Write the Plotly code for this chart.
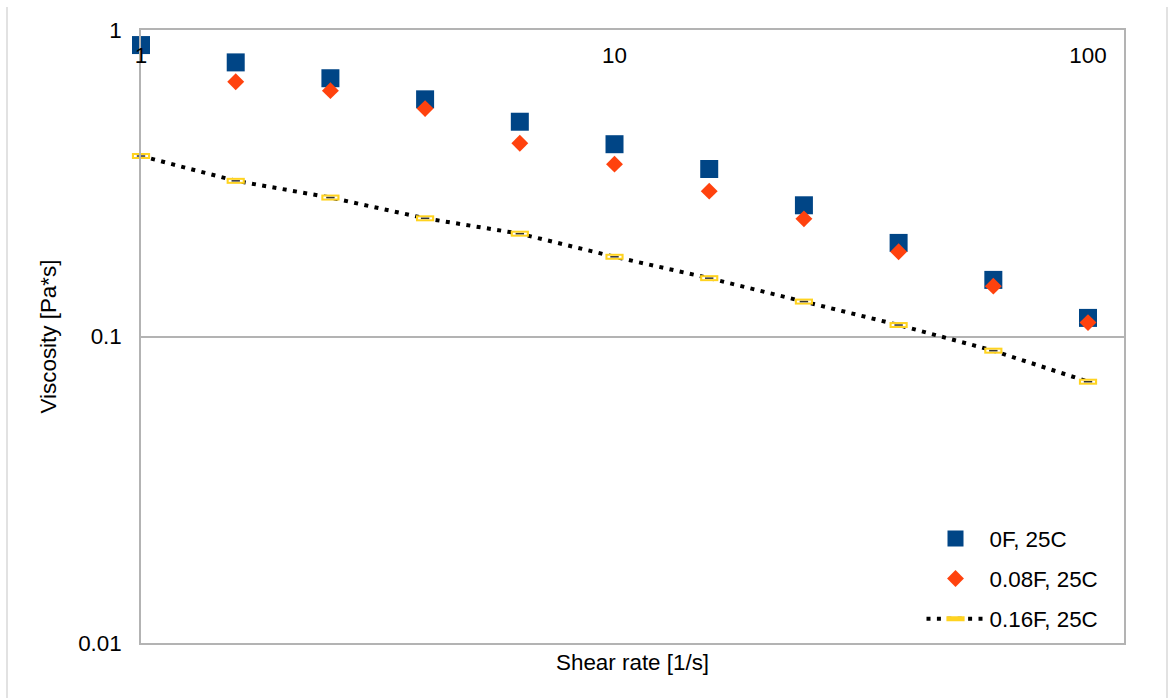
import plotly.graph_objects as go

# Shear rate [1/s]
shear_rate = [1, 1.585, 2.512, 3.981, 6.31, 10, 15.85, 25.12, 39.81, 63.1, 100]

# Viscosity [Pa*s] for each formulation at 25C
visc_0F = [0.893, 0.784, 0.696, 0.594, 0.502, 0.424, 0.352, 0.268, 0.202, 0.153, 0.115]
visc_008F = [None, 0.678, 0.634, 0.554, 0.427, 0.365, 0.298, 0.242, 0.189, 0.146, 0.111]
visc_016F = [0.388, 0.322, 0.284, 0.243, 0.2165, 0.182, 0.155, 0.130, 0.109, 0.0899, 0.0712]

x_ticks = [1, 10, 100]
x_tick_text = ["1", "10", "100"]
y_ticks = [0.01, 0.1, 1]
y_tick_text = ["0.01", "0.1", "1"]

FONT = "Liberation Sans, Arial, sans-serif"
FS = 22.4
GRID = "#b3b3b3"

fig = go.Figure()

fig.add_trace(go.Scatter(
    x=shear_rate, y=visc_0F, mode="markers", name="0F, 25C",
    marker=dict(symbol="square", size=18, color="#004586"),
    legendgroup="a", cliponaxis=False,
))
fig.add_trace(go.Scatter(
    x=shear_rate, y=visc_008F, mode="markers", name="0.08F, 25C",
    marker=dict(symbol="diamond", size=13, color="#ff420e"),
    legendgroup="b", cliponaxis=False,
))
fig.add_trace(go.Scatter(
    x=shear_rate, y=visc_016F, mode="lines+markers", name="0.16F, 25C",
    line=dict(color="black", width=4, dash="4px,6.4px"),
    marker=dict(symbol="line-ew", size=13, line=dict(color="#ffd320", width=6)),
    legendgroup="c", cliponaxis=False,
))
# hollow centre of the dash markers, with the line showing through
fig.add_trace(go.Scatter(
    x=shear_rate, y=visc_016F, mode="markers", showlegend=False, hoverinfo="skip",
    marker=dict(symbol="line-ew", size=10, line=dict(color="white", width=2)),
    legendgroup="c", cliponaxis=False,
))
fig.add_trace(go.Scatter(
    x=shear_rate, y=visc_016F, mode="markers", showlegend=False, hoverinfo="skip",
    marker=dict(symbol="line-ew", size=6, line=dict(color="#333333", width=1.5)),
    legendgroup="c", cliponaxis=False,
))

fig.update_layout(
    width=1168, height=698,
    margin=dict(l=141, r=44, t=30, b=55),
    paper_bgcolor="white", plot_bgcolor="white",
    font=dict(family=FONT, size=FS, color="black"),
    showlegend=True,
    legend=dict(
        x=0.794, y=0.205, xanchor="left", yanchor="top",
        bgcolor="rgba(0,0,0,0)", font=dict(size=FS, color="black"),
        tracegroupgap=8, itemwidth=58,
    ),
    xaxis=dict(
        type="log", range=[0, 2.076], side="top",
        tickvals=x_ticks, ticktext=x_tick_text,
        ticklabelposition="inside", ticks="", ticklabelstandoff=19,
        ticklabeloverflow="allow",
        tickfont=dict(color="black", size=FS),
        showgrid=False, zeroline=False,
        showline=True, linecolor=GRID, linewidth=1.5, mirror=True,
    ),
    yaxis=dict(
        type="log", range=[-2, 0],
        tickvals=y_ticks, ticktext=y_tick_text,
        ticks="", ticklabelstandoff=13, ticklabeloverflow="allow",
        tickfont=dict(color="black", size=FS),
        showgrid=True, gridcolor=GRID, gridwidth=1.5,
        showline=True, linecolor=GRID, linewidth=1.5, mirror=True,
        title=dict(text="Viscosity [Pa*s]", standoff=15, font=dict(color="black", size=FS)),
    ),
    annotations=[dict(
        text="Shear rate [1/s]", xref="paper", yref="paper",
        x=0.5, y=0, yshift=-19, xanchor="center", yanchor="middle",
        showarrow=False, font=dict(size=FS, color="black"),
    )],
    shapes=[
        dict(type="line", xref="paper", yref="paper",
             x0=-134 / 983, x1=-134 / 983, y0=1 + 23 / 613, y1=-55 / 613,
             line=dict(color="#d9d9d9", width=1.5)),
        dict(type="line", xref="paper", yref="paper",
             x0=1 + 43 / 983, x1=1 + 43 / 983, y0=1 + 23 / 613, y1=-55 / 613,
             line=dict(color="#d9d9d9", width=1.5)),
    ],
)

fig.write_html("out.html")
